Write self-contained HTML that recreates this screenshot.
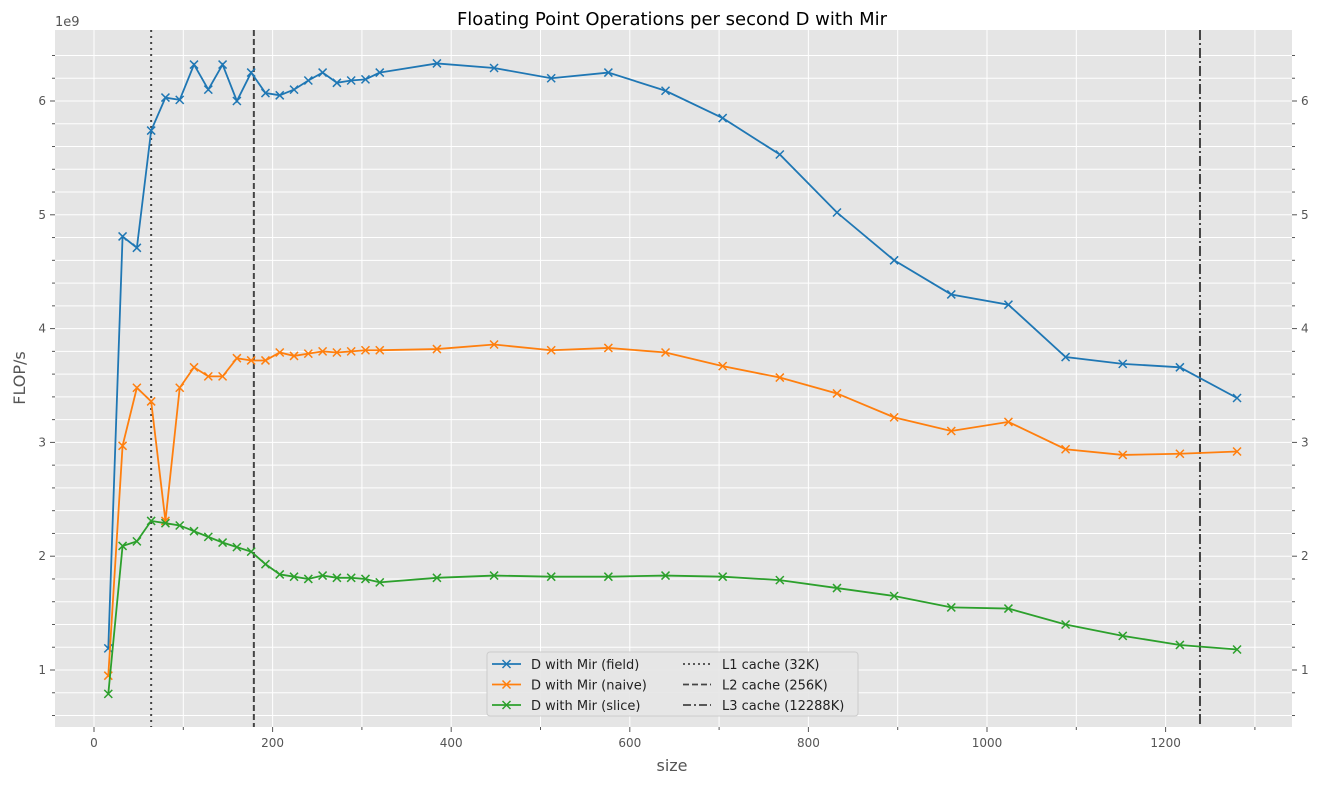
<!DOCTYPE html>
<html><head><meta charset="utf-8"><style>
body{margin:0;background:#fff;font-family:"Liberation Sans","DejaVu Sans",sans-serif}
svg text{font-family:"DejaVu Sans","Liberation Sans",sans-serif}
</style></head><body>
<svg id="c" width="1320" height="783" viewBox="0 0 1320 783" xmlns="http://www.w3.org/2000/svg">
<text x="672" y="25" font-size="18" text-anchor="middle" fill="#000">Floating Point Operations per second D with Mir</text>
<text x="672" y="771" font-size="16" text-anchor="middle" fill="#555">size</text>
<text x="25" y="378" font-size="16" text-anchor="middle" fill="#555" transform="rotate(-90 25 378)">FLOP/s</text>
<text x="55" y="26" font-size="13" fill="#555">1e9</text>
</svg>
<script>
const sizes=[16,32,48,64,80,96,112,128,144,160,176,192,208,224,240,256,272,288,304,320,384,448,512,576,640,704,768,832,896,960,1024,1088,1152,1216,1280];
const fieldVals=[1.19,4.81,4.71,5.74,6.03,6.01,6.32,6.10,6.32,6.00,6.25,6.07,6.05,6.10,6.18,6.25,6.16,6.18,6.19,6.25,6.33,6.29,6.20,6.25,6.09,5.85,5.53,5.02,4.60,4.30,4.21,3.75,3.69,3.66,3.39];
const naiveVals=[0.95,2.97,3.48,3.36,2.31,3.48,3.66,3.58,3.58,3.74,3.72,3.72,3.79,3.76,3.78,3.80,3.79,3.80,3.81,3.81,3.82,3.86,3.81,3.83,3.79,3.67,3.57,3.43,3.22,3.10,3.18,2.94,2.89,2.90,2.92];
const sliceVals=[0.79,2.09,2.13,2.31,2.29,2.27,2.22,2.17,2.12,2.08,2.04,1.93,1.84,1.82,1.80,1.83,1.81,1.81,1.80,1.77,1.81,1.83,1.82,1.82,1.83,1.82,1.79,1.72,1.65,1.55,1.54,1.40,1.30,1.22,1.18];
const xTicks=[0,200,400,600,800,1000,1200];
const yTicks=[1,2,3,4,5,6];
const cacheLines=[64,179,1238.5];
const L=55,R=1292,T=30,B=727;
const X=v=>94+v*0.893;
const Y=v=>670-(v-1)*113.8;
const svg=document.getElementById('c');
const NS='http://www.w3.org/2000/svg';
function mk(t,a,p){const e=document.createElementNS(NS,t);for(const k in a)e.setAttribute(k,a[k]);(p||svg).appendChild(e);return e;}
const bg=mk('rect',{x:L,y:T,width:R-L,height:B-T,fill:'#e5e5e5'});


const grid=mk('g',{stroke:'#fff','stroke-width':1});


for(let v=0;v<=1400;v+=100){const x=X(v);if(x<L||x>R)continue;mk('line',{x1:x,x2:x,y1:T,y2:B},grid);
 mk('line',{x1:x,x2:x,y1:B,y2:B+(v%200?3:5),stroke:'#555'});}
for(let v=0.6;v<=6.5;v+=0.2){const y=Y(v);if(y<T||y>B)continue;mk('line',{x1:L,x2:R,y1:y,y2:y},grid);
 const maj=Math.abs(v-Math.round(v))<0.01;
 mk('line',{x1:L-(maj?5:3),x2:L,y1:y,y2:y,stroke:'#555'});mk('line',{x1:R,x2:R+(maj?5:3),y1:y,y2:y,stroke:'#555'});}
xTicks.forEach(v=>{const t=mk('text',{x:X(v),y:B+20,'font-size':12,'text-anchor':'middle',fill:'#555'});t.textContent=v;

});
yTicks.forEach(v=>{const t=mk('text',{x:L-9,y:Y(v)+4,'font-size':12,'text-anchor':'end',fill:'#555'});t.textContent=v;


const t2=mk('text',{x:R+9,y:Y(v)+4,'font-size':12,fill:'#555'});t2.textContent=v;

});
const dashes=['2,4','6,3','10,3,2,3'];
cacheLines.forEach((v,i)=>{const l=mk('line',{x1:X(v),x2:X(v),y1:T,y2:B,stroke:'#444','stroke-width':2,'stroke-dasharray':dashes[i]});

});
const series=[[fieldVals,'#1f77b4','field'],[naiveVals,'#ff7f0e','naive'],[sliceVals,'#2ca02c','slice']];
function cross(g,x,y,c){mk('path',{d:`M${x-4},${y-4}L${x+4},${y+4}M${x-4},${y+4}L${x+4},${y-4}`,stroke:c,'stroke-width':1.5,fill:'none'},g);}
series.forEach(([vals,c,n])=>{const g=mk('g',{});


mk('polyline',{points:sizes.map((s,i)=>X(s)+','+Y(vals[i])).join(' '),fill:'none',stroke:c,'stroke-width':1.8},g);
sizes.forEach((s,i)=>cross(g,X(s),Y(vals[i]),c));});
const lg=mk('g',{});


mk('rect',{x:487,y:652,width:371,height:64,rx:3,fill:'#e5e5e5',stroke:'#ccc','fill-opacity':0.9},lg);
const labs=['D with Mir (field)','D with Mir (naive)','D with Mir (slice)'];
series.forEach(([v,c],i)=>{const y=664+i*20.5;mk('line',{x1:492,x2:521,y1:y,y2:y,stroke:c,'stroke-width':1.8},lg);cross(lg,506.5,y,c);
const t=mk('text',{x:531,y:y+5,'font-size':13,fill:'#222'},lg);t.textContent=labs[i];

});
const cl=['L1 cache (32K)','L2 cache (256K)','L3 cache (12288K)'];
cl.forEach((s,i)=>{const y=664+i*20.5;mk('line',{x1:683,x2:711,y1:y,y2:y,stroke:'#444','stroke-width':1.8,'stroke-dasharray':['2,3','6,3','8,3,2,3'][i]},lg);
const t=mk('text',{x:722,y:y+5,'font-size':13,fill:'#222'},lg);t.textContent=s;

});
</script>
</body></html>
